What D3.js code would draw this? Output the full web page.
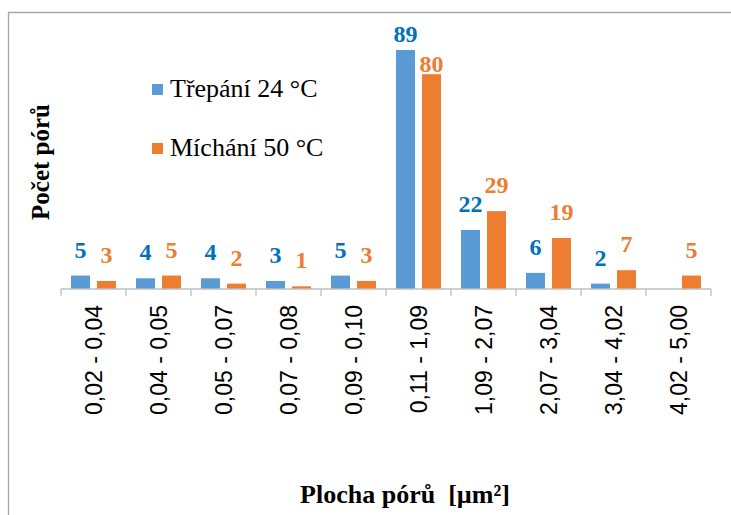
<!DOCTYPE html>
<html>
<head>
<meta charset="utf-8">
<script src="https://cdn.jsdelivr.net/npm/d3@7"></script>
<style>
  html, body { margin: 0; padding: 0; background: #fff; }
  svg { display: block; }
  .serif { font-family: "Liberation Serif", "Times New Roman", Times, serif; }
  .sans { font-family: "Liberation Sans", Arial, Helvetica, sans-serif; }
  .keep { white-space: pre; }
</style>
</head>
<body>
<svg id="chart" width="731" height="515"></svg>
<script>
// Pore area classes [µm²]
const categories = ["0,02 - 0,04", "0,04 - 0,05", "0,05 - 0,07", "0,07 - 0,08", "0,09 - 0,10",
                    "0,11 - 1,09", "1,09 - 2,07", "2,07 - 3,04", "3,04 - 4,02", "4,02 - 5,00"];
// Pore counts per class
const trepani = [5, 4, 4, 3, 5, 89, 22, 6, 2, null];
const michani = [3, 5, 2, 1, 3, 80, 29, 19, 7, 5];
const seriesNames = ["Třepání 24 °C", "Míchání 50 °C"];
const barColors = ["#5B9BD5", "#ED7D31"];
const labelColors = ["#0070C0", "#ED7D31"];
// Hand-placed data labels in the tallest class (moved down to stay inside the chart)
const labelNudge = { "0,11 - 1,09": [10, 16] };

const svg = d3.select("#chart");

// chart frame (top and left edges visible)
svg.append("path")
  .attr("d", "M8.5,515 V12.5 H731")
  .attr("fill", "none")
  .attr("stroke", "#a6a6a6")
  .attr("stroke-width", 1.3);

const baseY = 289;
const x0 = d3.scaleBand().domain(categories).range([61, 711]);
const x1 = d3.scaleBand().domain([0, 1]).range([0, x0.bandwidth()])
  .paddingInner(0.27).paddingOuter(0.385);
const y = d3.scaleLinear().domain([0, 90]).range([baseY, baseY - 90 * 2.685]);

const rows = categories.map((c, i) => ({ cat: c, vals: [trepani[i], michani[i]] }));

const groups = svg.append("g").selectAll("g").data(rows).join("g")
  .attr("transform", d => `translate(${x0(d.cat)},0)`);

const items = d => d.vals.map((v, s) => ({ v, s, cat: d.cat })).filter(e => e.v != null);

groups.selectAll("rect").data(items).join("rect")
  .attr("x", e => x1(e.s))
  .attr("width", x1.bandwidth())
  .attr("y", e => y(e.v))
  .attr("height", e => baseY - y(e.v))
  .attr("fill", e => barColors[e.s]);

groups.selectAll("text").data(items).join("text")
  .attr("class", "serif")
  .attr("x", e => x1(e.s) + x1.bandwidth() / 2)
  .attr("y", e => y(e.v) - 18 + (labelNudge[e.cat] ? labelNudge[e.cat][e.s] : 0))
  .attr("text-anchor", "middle")
  .style("font-weight", "bold")
  .style("font-size", "24px")
  .attr("fill", e => labelColors[e.s])
  .text(e => e.v);

// category axis
const xAxis = svg.append("g").attr("transform", `translate(0,${baseY})`);
xAxis.append("line")
  .attr("x1", 61).attr("x2", 711)
  .attr("stroke", "#bfbfbf").attr("stroke-width", 1.3);
const edges = categories.map(c => x0(c)).concat([x0.range()[1]]);
xAxis.selectAll("line.tick").data(edges).join("line")
  .attr("class", "tick")
  .attr("x1", d => d).attr("x2", d => d)
  .attr("y1", 0).attr("y2", 7)
  .attr("stroke", "#bfbfbf").attr("stroke-width", 1.3);
xAxis.selectAll("text").data(categories).join("text")
  .attr("class", "sans")
  .attr("transform", d => `translate(${x0(d) + x0.bandwidth() / 2 + 8},16) rotate(-90)`)
  .attr("text-anchor", "end")
  .style("font-size", "23px")
  .attr("fill", "#000")
  .text(d => d);

// axis titles
svg.append("text")
  .attr("class", "serif keep")
  .attr("x", 405).attr("y", 503)
  .attr("text-anchor", "middle")
  .style("font-weight", "bold")
  .style("font-size", "26px")
  .attr("fill", "#000")
  .text("Plocha pórů  [µm²]");

svg.append("text")
  .attr("class", "serif")
  .attr("transform", "translate(49,162) rotate(-90)")
  .attr("text-anchor", "middle")
  .style("font-weight", "bold")
  .style("font-size", "25px")
  .attr("fill", "#000")
  .text("Počet pórů");

// legend
const legend = svg.append("g").selectAll("g").data(seriesNames).join("g")
  .attr("transform", (d, i) => `translate(152,${84 + i * 59})`);
legend.append("rect")
  .attr("width", 11).attr("height", 11)
  .attr("fill", (d, i) => barColors[i]);
legend.append("text")
  .attr("class", "serif")
  .attr("x", 18).attr("y", 13)
  .style("font-size", "26px")
  .attr("fill", "#000")
  .text(d => d);
</script>
</body>
</html>
